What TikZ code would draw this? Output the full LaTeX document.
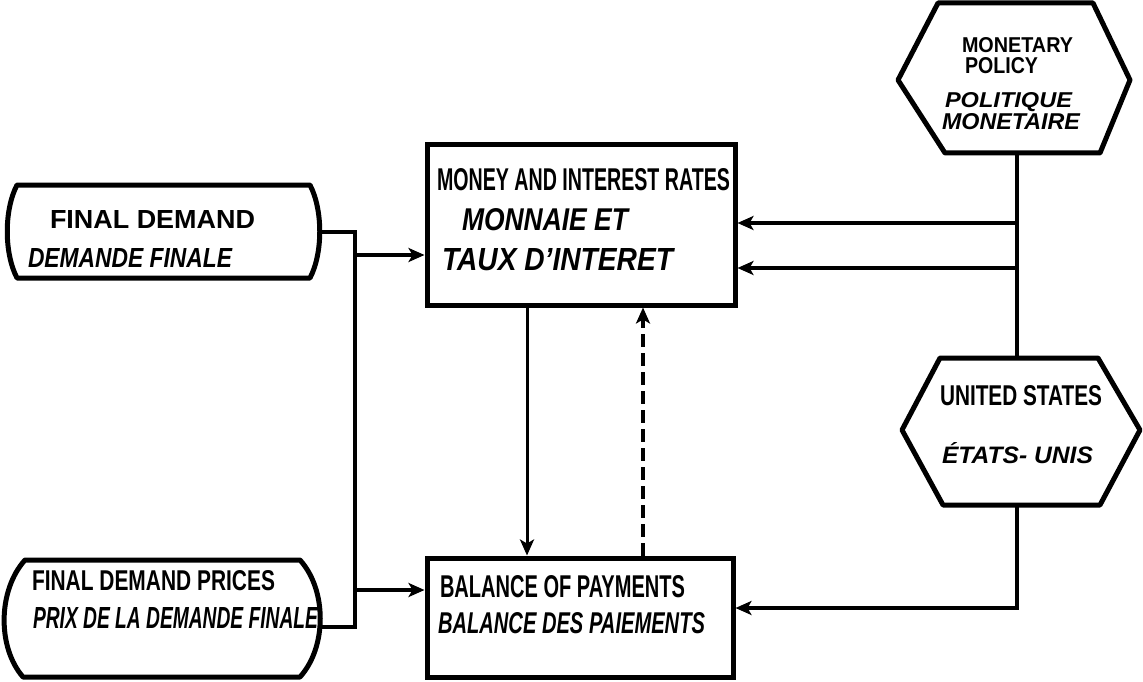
\documentclass[tikz,border=0pt]{standalone}
\usepackage{fontspec}
\setmainfont{Liberation Sans}
\usetikzlibrary{arrows.meta}
\newcommand\tline[6]{\node[anchor=base west,inner sep=0pt,outer sep=0pt] (#1) at (#2,#3) {\resizebox{#4pt}{#5pt}{#6}};}
\tikzset{
  boxfr/.style={draw, line width=5pt, rectangle, inner sep=0pt},
  ghost/.style={rectangle, inner sep=0pt, outer sep=0pt},
  outline/.style={line width=5pt, line join=round},
  conn/.style={line width=4pt, line join=miter},
  tip/.style={-{Stealth[length=16pt,width=14pt,inset=4pt]}},
  arr/.style={conn, tip},
  thinarr/.style={line width=3pt, tip},
  dasharr/.style={line width=4pt, dash pattern=on 13pt off 6pt, tip},
}
\begin{document}
\begin{tikzpicture}[x=1pt,y=-1pt]
\useasboundingbox (0,0) rectangle (1143,682);

% ---- left input shapes
\node[ghost, minimum width=313pt, minimum height=93pt] (fd) at (163.5,231.5) {};
\draw[outline] ([xshift=10pt]fd.north west) -- ([xshift=-10pt]fd.north east)
  .. controls +(13,25) and +(13,-25) .. ([xshift=-10pt]fd.south east)
  -- ([xshift=10pt]fd.south west)
  .. controls +(-13,-25) and +(-13,25) .. ([xshift=10pt]fd.north west) -- cycle;

\node[ghost, minimum width=315pt, minimum height=117pt] (fdp) at (162.5,618.5) {};
\draw[outline] ([xshift=20pt]fdp.north west) -- ([xshift=-20pt]fdp.north east)
  .. controls +(27,30) and +(27,-30) .. ([xshift=-20pt]fdp.south east)
  -- ([xshift=18pt]fdp.south west)
  .. controls +(-26,-30) and +(-27,30) .. ([xshift=20pt]fdp.north west) -- cycle;

% ---- central boxes
\node[boxfr, minimum width=308pt, minimum height=160pt] (money) at (581,225) {};
\node[boxfr, minimum width=306pt, minimum height=119pt] (bop) at (580,617.5) {};

% ---- hexagons
\node[ghost, minimum width=232pt, minimum height=150pt] (mp) at (1014,78) {};
\draw[outline] (938,3) -- (1093,3) -- (1130,80) -- (1100,153) -- (945,153) -- (898,80) -- cycle;
\node[ghost, minimum width=238pt, minimum height=147pt] (us) at (1021,431.5) {};
\draw[outline] (940,358) -- (1098,358) -- (1140,430) -- (1100,505) -- (943,505) -- (902,430) -- cycle;

% ---- texts
\tline{fdA}{50}{228}{205}{18}{\bfseries FINAL DEMAND}
\tline{fdB}{28}{267}{204}{19}{\bfseries\itshape DEMANDE FINALE}
\tline{fdpA}{32}{590}{243}{20}{\bfseries FINAL DEMAND PRICES}
\tline{fdpB}{33}{628}{285}{21}{\bfseries\itshape PRIX DE LA DEMANDE FINALE}
\tline{moA}{437}{190}{293}{22}{\bfseries MONEY AND INTEREST RATES}
\tline{moB}{462}{230}{166}{22}{\bfseries\itshape MONNAIE ET}
\tline{moC}{442}{270}{231}{22}{\bfseries\itshape TAUX D'INTERET}
\tline{boA}{440}{597}{245}{22}{\bfseries BALANCE OF PAYMENTS}
\tline{boB}{438}{633}{267}{21}{\bfseries\itshape BALANCE DES PAIEMENTS}
\tline{mpA}{962}{53}{111}{15}{\bfseries MONETARY}
\tline{mpB}{965}{74}{73}{16}{\bfseries POLICY}
\tline{mpC}{945}{108}{127}{15}{\bfseries\itshape POLITIQUE}
\tline{mpD}{942}{130}{138}{16}{\bfseries\itshape MONETAIRE}
\tline{usA}{940}{405}{162}{20}{\bfseries UNITED STATES}
\tline{usB}{942}{463}{151}{21}{\bfseries\itshape ÉTATS- UNIS}

% ---- left connectors
\coordinate (ja) at (355,232);
\coordinate (jb) at (355,627);
\coordinate (a1) at (355,255);
\coordinate (a2) at (355,590);
\draw[conn] (fd.east |- ja) -- (ja) -- (jb) -- (fdp.east |- jb);
\draw[arr] (a1) -- (a1 -| money.west);
\draw[arr] (a2) -- (a2 -| bop.west);

% ---- vertical links between boxes
\coordinate (v1) at (527,400);
\coordinate (v2) at (643,400);
\draw[thinarr] (money.south -| v1) -- (bop.north -| v1);
\draw[dasharr] (bop.north -| v2) -- (money.south -| v2);

% ---- right connectors
\coordinate (r1) at (1017,223);
\coordinate (r2) at (1017,268);
\coordinate (r3) at (1017,608);
\draw[conn] (r1 |- mp.south) -- (r1 |- us.north);
\draw[arr] (r1) -- (r1 -| money.east);
\draw[arr] (r2) -- (r2 -| money.east);
\draw[arr] (r3 |- us.south) -- (r3) -- (r3 -| bop.east);
\end{tikzpicture}
\end{document}
